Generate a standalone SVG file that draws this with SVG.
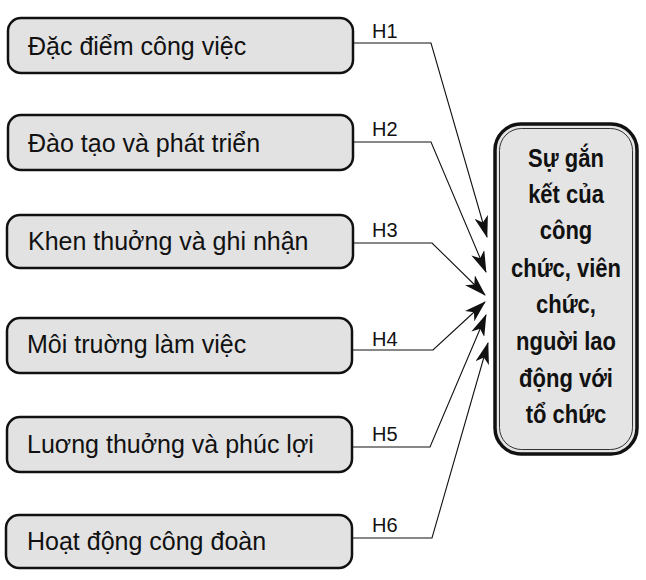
<svg xmlns="http://www.w3.org/2000/svg" width="646" height="580" viewBox="0 0 646 580">
<style>
.box{fill:#e2e2e2;stroke:#111;stroke-width:2.5}
.t{font-family:"Liberation Sans",Arial,sans-serif;font-size:25px;fill:#111}
.h{font-family:"Liberation Sans",Arial,sans-serif;font-size:20px;fill:#111}
.c{fill:none;stroke:#111;stroke-width:1.1}
.bt{font-family:"Liberation Sans",Arial,sans-serif;font-size:22px;font-weight:bold;fill:#111;text-anchor:middle}
</style>
<defs>
<marker id="ah" viewBox="0 0 22 14" refX="21" refY="7" markerWidth="22" markerHeight="14" markerUnits="userSpaceOnUse" orient="auto">
<path d="M0,0 L22,7 L0,14 L6,7 z" fill="#111"/>
</marker>
</defs>
<rect width="646" height="580" fill="#fff"/>
<g id="n1"><rect class="box" x="8" y="18" width="345" height="55" rx="13"/><text class="t" x="28" y="55">Đặc điểm công việc</text></g>
<g id="n2"><rect class="box" x="8" y="115" width="345" height="55" rx="13"/><text class="t" x="28" y="152">Đào tạo và phát triển</text></g>
<g id="n3"><rect class="box" x="7" y="215" width="346" height="53" rx="13"/><text class="t" x="28" y="250">Khen thuởng và ghi nhận</text></g>
<g id="n4"><rect class="box" x="7" y="318" width="345" height="55" rx="13"/><text class="t" x="27" y="353">Môi truờng làm việc</text></g>
<g id="n5"><rect class="box" x="7" y="417" width="345" height="55" rx="13"/><text class="t" x="27" y="453">Luơng thuởng và phúc lợi</text></g>
<g id="n6"><rect class="box" x="6" y="515" width="346" height="53" rx="13"/><text class="t" x="27" y="550">Hoạt động công đoàn</text></g>
<g id="target">
<rect x="495" y="124" width="142" height="330" rx="26" fill="#e4e4e4" stroke="#111" stroke-width="3.5"/>
<rect x="499.5" y="128.5" width="133" height="321" rx="22" fill="none" stroke="#333" stroke-width="1"/>
<text class="bt" transform="translate(566,167) scale(1,1.15)">Sự gắn</text>
<text class="bt" transform="translate(566,203) scale(1,1.15)">kết của</text>
<text class="bt" transform="translate(566,239) scale(1,1.15)">công</text>
<text class="bt" transform="translate(566,277) scale(1,1.15)">chức, viên</text>
<text class="bt" transform="translate(566,313) scale(1,1.15)">chức,</text>
<text class="bt" transform="translate(566,350) scale(1,1.15)">nguời lao</text>
<text class="bt" transform="translate(566,387) scale(1,1.15)">động với</text>
<text class="bt" transform="translate(566,423) scale(1,1.15)">tổ chức</text>
</g>
<g id="connectors">
<polyline class="c" points="353,43 431,43 487,237" marker-end="url(#ah)"/>
<polyline class="c" points="353,142 431,142 486,272" marker-end="url(#ah)"/>
<polyline class="c" points="353,243 432,243 485,295" marker-end="url(#ah)"/>
<polyline class="c" points="352,350 433,350 485,302" marker-end="url(#ah)"/>
<polyline class="c" points="352,447 430,447 486,315" marker-end="url(#ah)"/>
<polyline class="c" points="352,538 432,538 488,343" marker-end="url(#ah)"/>
<text class="h" x="372" y="38">H1</text>
<text class="h" x="372" y="136">H2</text>
<text class="h" x="372" y="237">H3</text>
<text class="h" x="372" y="346">H4</text>
<text class="h" x="372" y="441">H5</text>
<text class="h" x="372" y="532">H6</text>
</g>
</svg>
